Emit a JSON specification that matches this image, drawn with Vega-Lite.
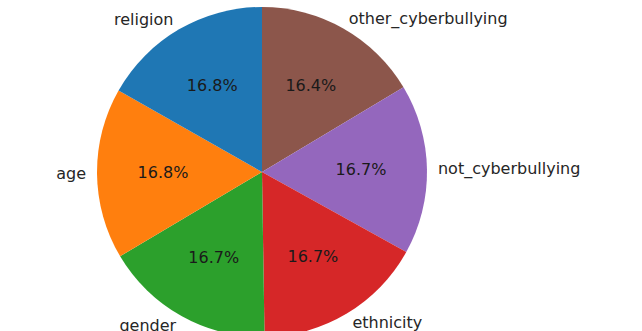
{
  "$schema": "https://vega.github.io/schema/vega-lite/v6.json",
  "autosize": "none",
  "width": 524,
  "height": 318,
  "padding": {"left": 0, "top": 13, "right": 118, "bottom": 0},
  "background": "white",
  "config": {"view": {"stroke": null}, "font": "DejaVu Sans"},
  "data": {
    "values": [
      {"label": "other_cyberbullying", "count": 7823, "ord": 1, "side": "right"},
      {"label": "not_cyberbullying", "count": 7945, "ord": 2, "side": "right"},
      {"label": "ethnicity", "count": 7961, "ord": 3, "side": "right"},
      {"label": "gender", "count": 7973, "ord": 4, "side": "left"},
      {"label": "age", "count": 7992, "ord": 5, "side": "left"},
      {"label": "religion", "count": 7998, "ord": 6, "side": "left"}
    ]
  },
  "transform": [
    {"joinaggregate": [{"op": "sum", "field": "count", "as": "total"}]},
    {"calculate": "format(100 * datum.count / datum.total, '.1f') + '%'", "as": "pct"},
    {"stack": "count", "groupby": [], "sort": [{"field": "ord"}], "as": ["t0", "t1"]},
    {"calculate": "(datum.t0 + datum.t1) / 2", "as": "tmid"}
  ],
  "encoding": {
    "color": {
      "field": "label",
      "type": "nominal",
      "legend": null,
      "scale": {
        "domain": ["religion", "age", "gender", "ethnicity", "not_cyberbullying", "other_cyberbullying"],
        "range": ["#1f77b4", "#ff7f0e", "#2ca02c", "#d62728", "#9467bd", "#8c564b"]
      }
    }
  },
  "layer": [
    {
      "mark": {"type": "arc", "outerRadius": 165},
      "encoding": {
        "theta": {"field": "t0", "type": "quantitative", "scale": {"domain": [0, 47692]}},
        "theta2": {"field": "t1"}
      }
    },
    {
      "mark": {"type": "text", "radius": 99, "fontSize": 16, "align": "center", "baseline": "middle"},
      "encoding": {
        "theta": {"field": "tmid", "type": "quantitative", "scale": {"domain": [0, 47692]}},
        "text": {"field": "pct"},
        "color": {"value": "#1a1a1a"}
      }
    },
    {
      "transform": [{"filter": "datum.side == 'right'"}],
      "mark": {"type": "text", "radius": 176, "fontSize": 16, "align": "left", "baseline": "middle"},
      "encoding": {
        "theta": {"field": "tmid", "type": "quantitative", "scale": {"domain": [0, 47692]}},
        "text": {"field": "label"},
        "color": {"value": "#262626"}
      }
    },
    {
      "transform": [{"filter": "datum.side == 'left'"}],
      "mark": {"type": "text", "radius": 176, "fontSize": 16, "align": "right", "baseline": "middle"},
      "encoding": {
        "theta": {"field": "tmid", "type": "quantitative", "scale": {"domain": [0, 47692]}},
        "text": {"field": "label"},
        "color": {"value": "#262626"}
      }
    }
  ]
}
